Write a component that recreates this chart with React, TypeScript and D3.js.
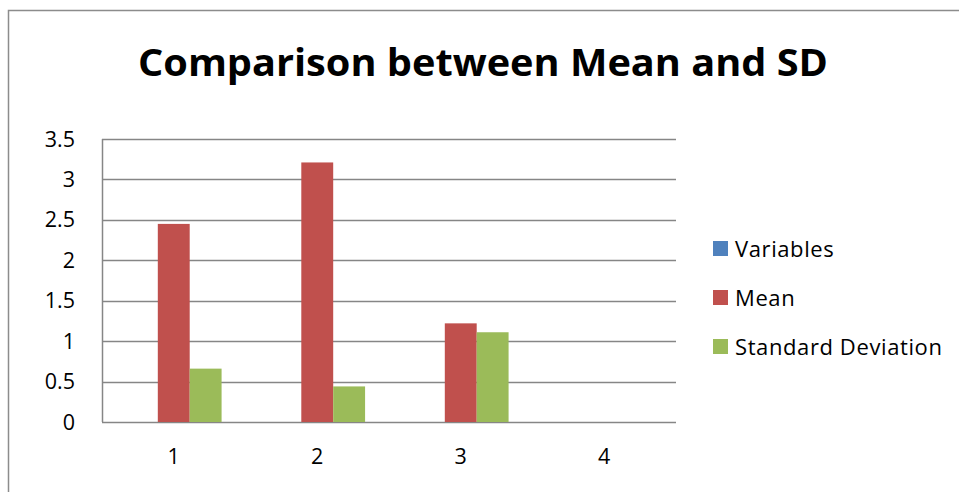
import React, { useEffect, useRef } from "react";
import * as d3 from "d3";

// chart values
const categories = ["1", "2", "3", "4"];
const seriesNames = ["Variables", "Mean", "Standard Deviation"];
const variablesValues = [0, 0, 0, 0];
const meanValues = [2.45, 3.21, 1.22, 0];
const sdValues = [0.66, 0.44, 1.11, 0];
const yTicks = [0, 0.5, 1, 1.5, 2, 2.5, 3, 3.5];
const colors = ["#4F81BD", "#C0504D", "#9BBB59"];

const titleText = "Comparison between Mean and SD";

const App = () => {
  const ref = useRef<SVGSVGElement>(null);

  const width = 959;
  const height = 492;
  const margin = { top: 139, right: 283, bottom: 70, left: 102 };
  const graphWidth = width - margin.left - margin.right;
  const graphHeight = height - margin.top - margin.bottom;

  useEffect(() => {
    const svg = d3.select(ref.current);
    svg.selectAll("*").remove();

    const font = "'Open Sans', 'Liberation Sans', sans-serif";

    // outer chart border (left + top visible)
    svg
      .append("path")
      .attr("d", `M8.5,${height} L8.5,10.5 L${width},10.5`)
      .attr("fill", "none")
      .attr("stroke", "#8c8c8c")
      .attr("stroke-width", 1.5);

    svg
      .append("text")
      .attr("x", 138)
      .attr("y", 76)
      .attr("font-family", font)
      .attr("font-weight", "bold")
      .attr("font-size", 37)
      .attr("textLength", 690)
      .attr("lengthAdjust", "spacingAndGlyphs")
      .attr("fill", "#000")
      .text(titleText);

    const graph = svg
      .append("g")
      .attr("transform", `translate(${margin.left},${margin.top})`);

    // scales - gap width 150% like excel
    const gap = 1.5 / 4.5;
    const x0 = d3
      .scaleBand()
      .domain(categories)
      .range([0, graphWidth])
      .paddingInner(gap)
      .paddingOuter(gap / 2);
    const x1 = d3
      .scaleBand()
      .domain(seriesNames)
      .range([0, x0.bandwidth()]);
    const y = d3.scaleLinear().domain([0, 3.5]).range([graphHeight, 0]);

    // gridlines
    graph
      .selectAll("line.grid")
      .data(yTicks)
      .enter()
      .append("line")
      .attr("class", "grid")
      .attr("x1", 0)
      .attr("x2", graphWidth)
      .attr("y1", (d) => Math.round(y(d)) + 0.5)
      .attr("y2", (d) => Math.round(y(d)) + 0.5)
      .attr("stroke", "#868686")
      .attr("stroke-width", 1.5);

    // left axis line
    graph
      .append("line")
      .attr("x1", 0.5)
      .attr("x2", 0.5)
      .attr("y1", 0)
      .attr("y2", graphHeight)
      .attr("stroke", "#868686")
      .attr("stroke-width", 1.5);

    // bars
    const seriesValues = [variablesValues, meanValues, sdValues];
    seriesNames.forEach((name, si) => {
      graph
        .append("g")
        .selectAll("rect")
        .data(seriesValues[si])
        .enter()
        .append("rect")
        .attr("x", (_d, i) => (x0(categories[i]) as number) + (x1(name) as number))
        .attr("y", (d) => y(d))
        .attr("width", x1.bandwidth())
        .attr("height", (d) => graphHeight - y(d))
        .attr("fill", colors[si]);
    });

    // y tick labels
    graph
      .selectAll("text.ytick")
      .data(yTicks)
      .enter()
      .append("text")
      .attr("class", "ytick")
      .attr("x", -27)
      .attr("y", (d) => y(d) + 7.5)
      .attr("text-anchor", "end")
      .attr("font-family", font)
      .attr("font-size", 21.5)
      .attr("fill", "#000")
      .text((d) => d3.format("")(d));

    // x tick labels
    graph
      .selectAll("text.xtick")
      .data(categories)
      .enter()
      .append("text")
      .attr("class", "xtick")
      .attr("x", (d) => (x0(d) as number) + x0.bandwidth() / 2)
      .attr("y", graphHeight + 42)
      .attr("text-anchor", "middle")
      .attr("font-family", font)
      .attr("font-size", 21.5)
      .attr("fill", "#000")
      .text((d) => d);

    // legend
    const legend = svg
      .append("g")
      .selectAll("g")
      .data(seriesNames)
      .enter()
      .append("g")
      .attr("transform", (_d, i) => `translate(713,${241 + i * 49})`);
    legend
      .append("rect")
      .attr("width", 15)
      .attr("height", 15)
      .attr("fill", (_d, i) => colors[i]);
    legend
      .append("text")
      .attr("x", 22)
      .attr("y", 15.5)
      .attr("font-family", font)
      .attr("font-size", 22)
      .attr("letter-spacing", 0.6)
      .attr("fill", "#000")
      .text((d) => d);
  }, []);

  return (
    <svg
      ref={ref}
      width={width}
      height={height}
      style={{ position: "absolute", left: 0, top: 0, background: "#fff" }}
    />
  );
};

export default App;
